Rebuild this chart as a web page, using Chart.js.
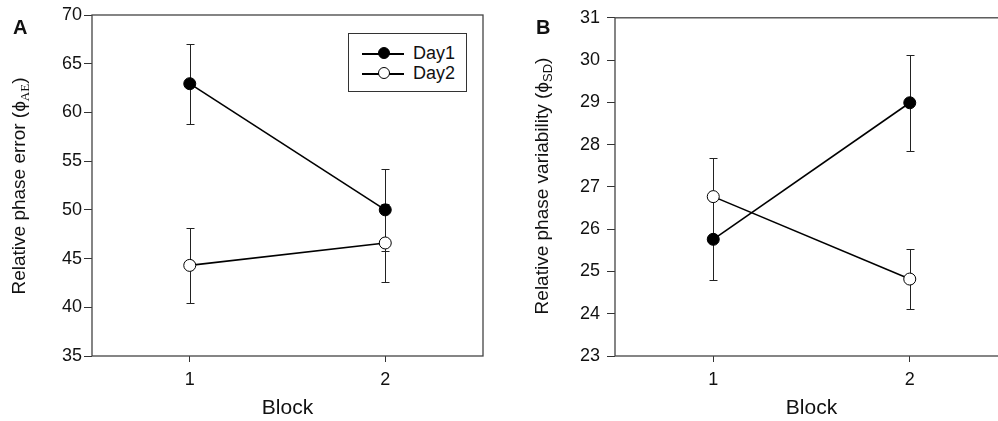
<!DOCTYPE html>
<html>
<head>
<meta charset="utf-8">
<script src="https://cdn.jsdelivr.net/npm/chart.js@4.4.1/dist/chart.umd.min.js"></script>
<style>
  body { margin: 0; width: 998px; height: 421px; overflow: hidden; background: #fff;
         font-family: 'Liberation Sans', Arial, sans-serif; position: relative; color: #111; }
  .panel { position: absolute; top: 0; height: 421px; }
  #panelA { left: 0; width: 500px; }
  #panelB { left: 500px; width: 520px; }
  .ytitle { position: absolute; white-space: nowrap; font-size: 19px;
            transform: translate(-50%, -50%) rotate(-90deg); }
  .ytitle sub { font-size: 13px; vertical-align: -4px; }
  .ytitle sub.serif { font-family: 'Liberation Serif', 'Times New Roman', serif; }
  .letter { position: absolute; font-weight: bold; font-size: 20px; }
  #legend { position: absolute; left: 348px; top: 33px; width: 117px; height: 57px;
            border: 1px solid #333; background: #fff; font-size: 18px; }
  #legend .row { position: absolute; left: 0; height: 20px; line-height: 20px; }
  #legend .ln { position: absolute; left: 13px; top: 10px; width: 42px; height: 1.5px; background: #000; }
  #legend .dot { position: absolute; left: 29px; top: 4px; width: 10px; height: 10px;
                 border: 1px solid #000; border-radius: 50%; }
  #legend .txt { position: absolute; left: 64px; top: 0; }
</style>
</head>
<body>

<div class="panel" id="panelA"><canvas id="chartA"></canvas></div>
<div class="panel" id="panelB"><canvas id="chartB"></canvas></div>

<div class="letter" style="left:13px; top:16px;">A</div>
<div class="letter" style="left:536px; top:16px;">B</div>

<div class="ytitle" style="left:20px; top:186px;">Relative phase error (ϕ<sub class="serif">AE</sub>)</div>
<div class="ytitle" style="left:543px; top:186px;">Relative phase variability (ϕ<sub>SD</sub>)</div>

<div id="legend"></div>

<script>
// données
const blocks = [1, 2];
const seriesNames = ['Day1', 'Day2'];

// A : erreur de phase relative
const errorDay1 = [62.95, 50.0];
const errorDay1Sem = [4.1, 4.2];
const errorDay2 = [44.3, 46.6];
const errorDay2Sem = [3.85, 4.05];
const errorTicks = [35, 40, 45, 50, 55, 60, 65, 70];

// B : variabilité de phase relative
const varDay1 = [25.76, 28.99];
const varDay1Sem = [0.96, 1.13];
const varDay2 = [26.77, 24.82];
const varDay2Sem = [0.92, 0.71];
const varTicks = [23, 24, 25, 26, 27, 28, 29, 30, 31];

const pointFills = ['#000', '#fff'];

// barres d'erreur (sous les points)
const errorBars = {
  id: 'errorBars',
  beforeDatasetsDraw(chart) {
    const { ctx, scales: { x, y } } = chart;
    ctx.save();
    ctx.strokeStyle = '#222';
    ctx.lineWidth = 1;
    chart.data.datasets.forEach(ds => {
      ds.data.forEach((p, i) => {
        const e = ds.errors[i];
        const px = Math.round(x.getPixelForValue(p.x)) + 0.5;
        const top = Math.round(y.getPixelForValue(p.y + e)) + 0.5;
        const bot = Math.round(y.getPixelForValue(p.y - e)) + 0.5;
        ctx.beginPath();
        ctx.moveTo(px, top); ctx.lineTo(px, bot);
        ctx.moveTo(px - 4, top); ctx.lineTo(px + 4, top);
        ctx.moveTo(px - 4, bot); ctx.lineTo(px + 4, bot);
        ctx.stroke();
      });
    });
    ctx.restore();
  }
};

// cadre autour de la zone du graphique
const frame = {
  id: 'frame',
  beforeDatasetsDraw(chart) {
    const { ctx, chartArea: a } = chart;
    ctx.save();
    ctx.strokeStyle = '#444';
    ctx.lineWidth = 1.3;
    ctx.strokeRect(a.left, a.top, a.right - a.left, a.bottom - a.top);
    ctx.restore();
  }
};

function makeChart(id, day1, day1Sem, day2, day2Sem, yTicks, yWidth, yPad, padRight) {
  const series = [[day1, day1Sem], [day2, day2Sem]];
  return new Chart(document.getElementById(id), {
    type: 'line',
    data: {
      datasets: series.map((s, k) => ({
        label: seriesNames[k],
        data: blocks.map((b, i) => ({ x: b, y: s[0][i] })),
        errors: s[1],
        borderColor: '#000',
        borderWidth: 1.6,
        pointRadius: 6,
        pointBorderWidth: 1,
        pointBorderColor: '#000',
        pointBackgroundColor: pointFills[k],
        tension: 0
      }))
    },
    options: {
      responsive: true,
      maintainAspectRatio: false,
      animation: false,
      layout: { padding: { left: 0, right: padRight, top: 15, bottom: 0 } },
      plugins: { legend: { display: false }, tooltip: { enabled: false } },
      scales: {
        x: {
          type: 'linear',
          min: 0.5,
          max: 2.5,
          afterBuildTicks: s => { s.ticks = blocks.map(v => ({ value: v })); },
          afterFit: s => { s.height = 65; },
          grid: { drawOnChartArea: false, drawTicks: true, tickLength: 6, color: '#333' },
          border: { display: false },
          ticks: { color: '#111', padding: 7, font: { family: 'Liberation Sans', size: 18 } },
          title: { display: true, text: 'Block', color: '#111', padding: 0,
                   font: { family: 'Liberation Sans', size: 21 } }
        },
        y: {
          min: yTicks[0],
          max: yTicks[yTicks.length - 1],
          afterBuildTicks: s => { s.ticks = yTicks.map(v => ({ value: v })); },
          afterFit: s => { s.width = yWidth; },
          grid: { drawOnChartArea: false, drawTicks: true, tickLength: 8, color: '#333' },
          border: { display: false },
          ticks: { color: '#111', padding: yPad, font: { family: 'Liberation Sans', size: 18 } }
        }
      }
    },
    plugins: [frame, errorBars]
  });
}

makeChart('chartA', errorDay1, errorDay1Sem, errorDay2, errorDay2Sem, errorTicks, 92, 2, 17);
makeChart('chartB', varDay1, varDay1Sem, varDay2, varDay2Sem, varTicks, 115, 7, 12);

// légende
const legend = document.getElementById('legend');
seriesNames.forEach((name, k) => {
  const row = document.createElement('div');
  row.className = 'row';
  row.style.top = (9 + k * 20) + 'px';
  row.innerHTML = '<i class="ln"></i><i class="dot" style="background:' + pointFills[k] +
                  '"></i><span class="txt">' + name + '</span>';
  legend.appendChild(row);
});
</script>
</body>
</html>
